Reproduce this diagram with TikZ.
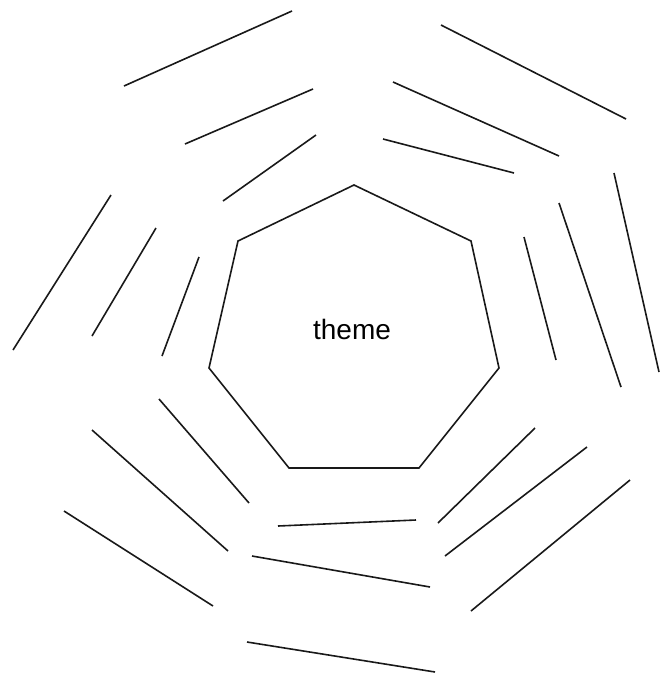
\documentclass[tikz,border=0pt]{standalone}
\usepackage{fontspec}
\setmainfont{Liberation Sans}
\begin{document}
\begin{tikzpicture}[x=1pt,y=-1pt,
  seg/.style={draw=black!90,line width=1.6pt,line cap=butt},
  lbl/.style={font=\fontsize{28}{34}\selectfont, inner sep=0pt}]
\useasboundingbox (0,0) rectangle (672,673);
% central heptagon
\draw[seg,line join=miter] (354,185) -- (471,241) -- (499,368) -- (419,468) -- (289,468) -- (209,368) -- (238,241) -- cycle;
\node[lbl,anchor=base] (theme) at (352,339) {theme};
% ring 1
\draw[seg] (223,201) -- (316,135);
\draw[seg] (383,139) -- (514,173);
\draw[seg] (524,237) -- (556,360);
\draw[seg] (535,428) -- (438,523);
\draw[seg] (416,520) -- (278,526);
\draw[seg] (249,503) -- (159,399);
\draw[seg] (162,356) -- (199,257);
% ring 2
\draw[seg] (185,144) -- (313,89);
\draw[seg] (393,82) -- (559,156);
\draw[seg] (559,203) -- (621,387);
\draw[seg] (587,447) -- (445,556);
\draw[seg] (430,587) -- (252,556);
\draw[seg] (228,551) -- (92,430);
\draw[seg] (92,336) -- (156,228);
% ring 3
\draw[seg] (124,86) -- (292,11);
\draw[seg] (441,25) -- (626,119);
\draw[seg] (614,173) -- (659,372);
\draw[seg] (630,480) -- (471,611);
\draw[seg] (435,672) -- (247,642);
\draw[seg] (213,606) -- (64,511);
\draw[seg] (13,350) -- (111,195);
\end{tikzpicture}
\end{document}
